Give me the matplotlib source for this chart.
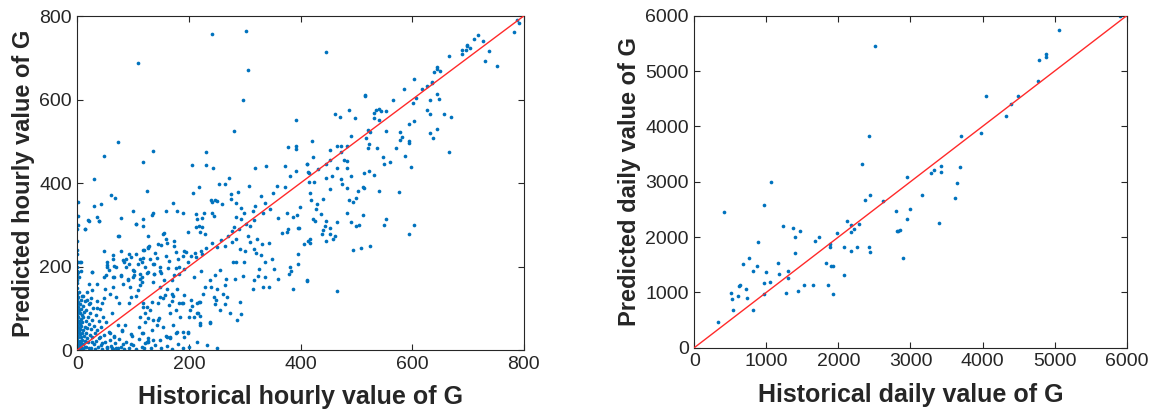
import matplotlib
matplotlib.use('Agg')
import matplotlib.pyplot as plt

# hourly data (historical, predicted)
hourly_top = [(241, 756), (303, 765), (108, 688), (306, 670), (297, 599), (392, 552), (281, 524), (73, 499), (48, 465), (136, 477),
              (117, 450), (231, 474), (206, 443), (231, 444), (243, 435), (319, 435), (338, 440), (373, 441), (377, 487), (392, 488),
              (392, 481), (411, 446), (392, 428), (414, 427), (382, 418), (272, 411), (29, 410)]

hourly_top_right = [(446, 714), (788, 791), (791, 783), (782, 761), (718, 754), (711, 744), (727, 739), (699, 731), (698, 727), (689, 719),
                    (689, 708), (696, 718), (704, 724), (737, 717), (730, 693), (752, 680), (667, 704), (644, 677), (645, 672), (639, 665),
                    (650, 669), (635, 643), (636, 640), (626, 632), (617, 626), (604, 649), (585, 626), (644, 613), (649, 601), (632, 598),
                    (607, 603), (601, 591), (566, 598), (516, 611), (516, 608), (462, 566), (471, 559), (487, 574), (497, 555), (531, 567),
                    (535, 575), (540, 577), (544, 572), (553, 572), (532, 555), (540, 552), (626, 574), (632, 565), (658, 566), (670, 558),
                    (604, 549), (595, 542), (521, 528), (524, 522), (517, 508), (522, 494), (553, 524), (579, 521), (581, 510), (579, 504),
                    (595, 500), (595, 495), (632, 519), (638, 507), (645, 529), (490, 512), (420, 501), (423, 463), (412, 446), (415, 425),
                    (431, 433), (446, 446), (453, 456), (453, 478), (465, 488), (472, 488), (472, 474), (484, 488), (478, 455), (484, 452),
                    (465, 436), (484, 435), (456, 418), (446, 413), (472, 410), (490, 418), (513, 425), (522, 428), (531, 419), (521, 484),
                    (537, 484), (547, 463), (550, 446), (560, 450), (571, 483), (588, 464), (598, 438), (667, 474)]

hourly_right = [(415, 403), (424, 403), (475, 397), (484, 388), (453, 385), (417, 377), (418, 359), (503, 380), (512, 390), (513, 388),
                (541, 381), (576, 378), (487, 359), (494, 354), (500, 364), (440, 361), (430, 349), (427, 338), (437, 325), (484, 328),
                (512, 323), (399, 343), (423, 314), (426, 308), (445, 308), (443, 296), (440, 287), (439, 279), (453, 292), (453, 277),
                (462, 273), (459, 265), (445, 260), (465, 306), (490, 306), (500, 297), (504, 300), (550, 299), (554, 315), (595, 279),
                (604, 299), (417, 265), (417, 257), (407, 253), (494, 239), (509, 244), (525, 249), (411, 166), (465, 142)]

hourly_middle = [(1, 355), (60, 371), (67, 363), (29, 344), (42, 349), (125, 382), (100, 334), (79, 317), (135, 327), (133, 323),
                 (117, 314), (106, 302), (35, 318), (38, 308), (19, 312), (13, 289), (0, 289), (74, 273), (48, 237), (79, 237),
                 (0, 212), (5, 212), (0, 199), (0, 183), (27, 188), (159, 334), (171, 352), (178, 332), (189, 328), (207, 377),
                 (218, 391), (253, 397), (265, 397), (240, 359), (241, 355), (247, 360), (259, 350), (241, 327), (245, 320), (212, 325),
                 (227, 329), (224, 316), (214, 314), (212, 295), (218, 296), (224, 295), (220, 282), (228, 279), (199, 283), (153, 277),
                 (156, 281), (144, 255), (150, 252), (159, 265), (160, 257), (174, 261), (174, 249), (126, 245), (129, 249), (119, 239),
                 (117, 220), (130, 218), (136, 207), (143, 220), (158, 225), (164, 214), (177, 235), (181, 219), (192, 238), (195, 235),
                 (190, 224), (182, 200), (177, 196), (173, 179), (170, 167), (183, 181), (191, 195), (199, 210), (203, 225), (210, 233),
                 (212, 222), (221, 236), (224, 229), (231, 244), (242, 257), (250, 247), (257, 264), (265, 249), (270, 273), (278, 258),
                 (284, 267), (278, 285), (280, 295), (290, 291), (284, 319), (293, 313), (302, 303), (298, 329), (316, 312), (315, 334),
                 (319, 344), (333, 329), (345, 337), (336, 352), (329, 370), (351, 375), (358, 393), (373, 391), (307, 393), (288, 378),
                 (275, 373), (276, 362), (251, 356), (293, 341), (284, 351), (309, 296), (305, 274), (309, 259), (322, 267), (331, 254),
                 (343, 256), (316, 243), (301, 236), (291, 242), (279, 210), (284, 212), (298, 210), (321, 233), (330, 227), (336, 210),
                 (348, 219), (352, 194), (326, 194), (323, 177), (317, 167), (314, 147), (332, 151), (336, 174), (343, 151), (360, 171),
                 (380, 183), (381, 200), (383, 190), (367, 281), (378, 289), (375, 283), (395, 293), (398, 293), (395, 231), (396, 206),
                 (387, 147), (412, 167), (414, 260), (376, 327), (387, 319), (393, 324), (360, 316)]

hourly_low = [(291, 114), (293, 86), (287, 73), (268, 128), (247, 110), (245, 128), (238, 64), (220, 60), (219, 82), (201, 80),
              (199, 43), (191, 31), (179, 43), (166, 30), (159, 33), (154, 55), (143, 61), (133, 47), (127, 21), (121, 17),
              (115, 40), (111, 56), (98, 33), (97, 15), (82, 14), (73, 5), (63, 5), (53, 7), (44, 16), (39, 29),
              (27, 32), (19, 18), (13, 8), (11, 14), (66, 32), (59, 40), (80, 48), (85, 61), (113, 80), (127, 76),
              (147, 76), (166, 89), (177, 95), (184, 80), (209, 80), (214, 88), (205, 106), (203, 120), (192, 132), (188, 113),
              (171, 130), (169, 118), (153, 124), (145, 112), (133, 115), (124, 102), (118, 112), (106, 130), (109, 143), (97, 128),
              (93, 112), (75, 112), (70, 128), (59, 135), (47, 124), (44, 112), (35, 100), (23, 113), (17, 120), (11, 130),
              (49, 145), (64, 151), (82, 158), (91, 167), (100, 175), (115, 175), (126, 186), (138, 183), (149, 190), (162, 197),
              (135, 163), (112, 155), (94, 151), (79, 177), (64, 175), (57, 191), (54, 203), (70, 199), (88, 199), (100, 191),
              (108, 207), (97, 223), (82, 215), (64, 219), (54, 211), (47, 175), (35, 159), (26, 143), (20, 159), (113, 183),
              (247, 179), (256, 191), (267, 171), (282, 171), (297, 178), (250, 147), (264, 155), (238, 167), (228, 151), (226, 135),
              (220, 116), (256, 96), (264, 110), (273, 88), (209, 175), (222, 190), (148, 150), (160, 147), (179, 147), (155, 167),
              (14, 291), (20, 309), (38, 309), (73, 274), (105, 301), (118, 297), (127, 274), (64, 227), (92, 231), (105, 231),
              (118, 239), (127, 247), (140, 233), (2, 211), (7, 211), (2, 186), (7, 190), (26, 186), (0, 167), (54, 199),
              (66, 201), (84, 211), (88, 217), (93, 207), (101, 190), (113, 219), (116, 211), (122, 199), (125, 185), (137, 207),
              (149, 199), (150, 185), (51, 179), (66, 175), (78, 179), (90, 171), (101, 179), (113, 171), (137, 183),
              (115, 163), (148, 128), (157, 132), (169, 134), (165, 108), (183, 112), (190, 112), (214, 112), (218, 116), (202, 96),
              (217, 88), (220, 65), (238, 67), (199, 40), (190, 44), (172, 60), (177, 40), (160, 32), (166, 28), (148, 24),
              (136, 24), (124, 20), (127, 28), (118, 40), (121, 67), (136, 71), (145, 72), (130, 96), (121, 88), (118, 104),
              (261, 135), (249, 119), (240, 151)]

hourly_corner = [(0, 5), (0, 15), (0, 25), (0, 35), (0, 48), (0, 60), (0, 72), (0, 85), (0, 97), (0, 110),
                 (0, 122), (0, 135), (0, 148), (0, 160), (1, 8), (1, 20), (1, 42), (1, 66), (1, 90), (1, 115),
                 (2, 3), (2, 30), (2, 55), (2, 78), (2, 102), (2, 128), (3, 12), (3, 45), (3, 70), (3, 95),
                 (3, 140), (4, 4), (4, 22), (4, 38), (4, 62), (4, 88), (5, 110), (5, 10), (5, 50), (6, 2),
                 (6, 30), (6, 75), (6, 120), (7, 16), (7, 58), (7, 98), (8, 6), (8, 40), (8, 84), (9, 24),
                 (9, 66), (9, 130), (10, 2), (10, 48), (10, 105), (11, 78), (12, 34), (12, 92), (13, 56), (14, 22),
                 (14, 118), (15, 70), (15, 40), (16, 8), (16, 96), (17, 52), (18, 28), (18, 140), (19, 80), (20, 4),
                 (20, 62), (21, 110), (22, 36), (23, 88), (24, 50), (25, 6), (25, 125), (26, 72), (27, 20), (28, 100),
                 (29, 14), (30, 58), (31, 40), (32, 3), (33, 85), (34, 22), (35, 118), (36, 48), (37, 8), (38, 70),
                 (40, 30), (41, 98), (42, 12), (43, 55), (45, 2), (46, 80), (48, 36), (50, 18), (52, 66), (54, 4),
                 (56, 44), (58, 24), (60, 10), (62, 88), (64, 2), (66, 34), (68, 16), (70, 5), (72, 60), (75, 26),
                 (78, 8), (80, 45), (84, 3), (88, 20), (92, 6), (96, 38), (100, 12), (105, 2), (110, 26), (115, 8),
                 (120, 4), (126, 18), (132, 6), (140, 12), (150, 4), (160, 10), (170, 3), (180, 14), (190, 5), (200, 8),
                 (215, 20), (232, 12), (250, 6), (0, 190), (0, 240), (0, 260), (1, 300), (2, 320), (0, 230), (3, 175)]

# daily data
daily_hist = [329, 407, 509, 523, 537, 611, 620, 639, 676, 718,
              727, 764, 810, 819, 870, 884, 963, 968, 968, 1000,
              1046, 1065, 1162, 1171, 1231, 1273, 1296, 1296, 1375, 1398,
              1398, 1444, 1472, 1519, 1648, 1676, 1727, 1829, 1852, 1889,
              1889, 1903, 1926, 1931, 1977, 2074, 2079, 2125, 2171, 2181,
              2181, 2218, 2264, 2287, 2333, 2366, 2426, 2426, 2444, 2444,
              2505, 2616, 2792, 2815, 2833, 2852, 2894, 2954, 2958, 2991,
              3162, 3280, 3327, 3401, 3419, 3419, 3618, 3641, 3691, 3696,
              3982, 4041, 4327, 4396, 4498, 4765, 4788, 4880, 4880, 5065,
              5912]
daily_pred = [473, 2448, 994, 873, 685, 939, 1115, 1127, 1515, 1055,
              897, 1612, 685, 1382, 1473, 1915, 964, 1176, 2576, 1364,
              1194, 3000, 1533, 1339, 2200, 994, 1394, 1261, 2158, 2006,
              1715, 1024, 2109, 1133, 1127, 1933, 1994, 1533, 1133, 1879,
              1824, 1473, 1479, 964, 2079, 1812, 1309, 2297, 1752, 2218,
              2091, 2139, 1818, 2236, 3327, 2667, 1812, 3830, 2752, 1721,
              5455, 2655, 2467, 2115, 2115, 2121, 1612, 2321, 3079, 2515,
              2764, 3155, 3218, 2248, 3291, 3170, 2697, 2982, 3273, 3830,
              3873, 4552, 4188, 4412, 4552, 4824, 5194, 5255, 5315, 5733,
              5988]

hourly_lim = 800
daily_lim = 6000

plt.rcParams['font.family'] = ['Liberation Sans', 'DejaVu Sans']
dot_color = '#0072BD'
text_color = '#262626'

hourly = hourly_top + hourly_top_right + hourly_right + hourly_middle + hourly_low + hourly_corner
hourly_hist = [p[0] for p in hourly]
hourly_pred = [p[1] for p in hourly]

fig = plt.figure(figsize=(11.51, 4.15), dpi=100)
ax1 = fig.add_axes([0.0672, 0.1566, 0.3878, 0.8048])
ax2 = fig.add_axes([0.6032, 0.1622, 0.3757, 0.8])


def style_axis(ax, lim, step, xlabel, ylabel):
    ax.set_xlim(0, lim)
    ax.set_ylim(0, lim)
    ticks = list(range(0, lim + 1, step))
    ax.set_xticks(ticks)
    ax.set_yticks(ticks)
    ax.tick_params(direction='in', top=True, right=True, length=4, width=0.8,
                   labelsize=14, colors=text_color, pad=4)
    for s in ax.spines.values():
        s.set_color(text_color)
        s.set_linewidth(0.8)
    ax.set_xlabel(xlabel, fontsize=18, fontweight='bold', color=text_color, labelpad=9)
    ax.set_ylabel(ylabel, fontsize=17, fontweight='bold', color=text_color, labelpad=3)


ax1.scatter(hourly_hist, hourly_pred, s=7, color=dot_color, linewidths=0, zorder=2)
ax1.plot([0, hourly_lim], [0, hourly_lim], color='#ff2a2a', linewidth=1, zorder=3)
style_axis(ax1, hourly_lim, 200, 'Historical hourly value of G', 'Predicted hourly value of G')

ax2.scatter(daily_hist, daily_pred, s=7, color=dot_color, linewidths=0, zorder=2)
ax2.plot([0, daily_lim], [0, daily_lim], color='#ff2a2a', linewidth=1, zorder=3)
style_axis(ax2, daily_lim, 1000, 'Historical daily value of G', 'Predicted daily value of G')

fig.savefig('out.png', dpi=100)
